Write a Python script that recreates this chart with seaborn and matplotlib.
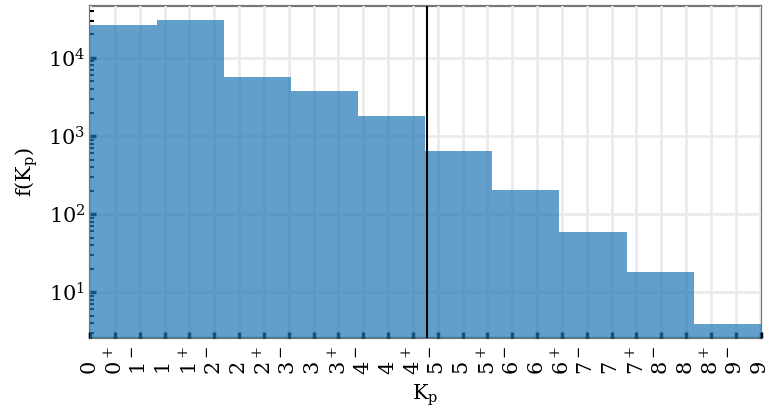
import matplotlib
matplotlib.use("Agg")
import matplotlib.pyplot as plt
import seaborn as sns
import numpy as np

# Kp histogram (10 bins over 0..9), counts
bin_edges = [0.0, 0.9, 1.8, 2.7, 3.6, 4.5, 5.4, 6.3, 7.2, 8.1, 9.0]
counts = [26500, 30700, 5700, 3780, 1800, 643, 203, 59, 18, 3.9]
kp_mark = 4.52

tick_pos = [i / 3 for i in range(28)]
tick_labels = []
for k in range(10):
    if k > 0:
        tick_labels.append(f"${k}^-$")
    tick_labels.append(f"${k}$")
    if k < 9:
        tick_labels.append(f"${k}^+$")

sns.set_style("whitegrid")
plt.rcParams["font.family"] = "DejaVu Serif"
plt.rcParams["mathtext.fontset"] = "dejavuserif"
plt.rcParams["text.color"] = "black"
plt.rcParams["axes.labelcolor"] = "black"
plt.rcParams["xtick.color"] = "black"
plt.rcParams["ytick.color"] = "black"

fig, ax = plt.subplots(figsize=(7.66, 4.12), dpi=100)
fig.subplots_adjust(left=0.1175, right=0.993, top=0.985, bottom=0.18)

centers = [(a + b) / 2 for a, b in zip(bin_edges[:-1], bin_edges[1:])]
sns.histplot(x=centers, weights=counts, bins=bin_edges, ax=ax,
             color="#1f77b4", alpha=0.7, edgecolor="none", linewidth=0)
ax.set_yscale("log")
ax.axvline(kp_mark, color="black", lw=1.5)

ax.set_xlim(0, 9)
ax.set_ylim(2.6, 46000)
ax.set_xticks(tick_pos)
ax.set_xticklabels(tick_labels, rotation=90, fontsize=15,
                   rotation_mode="anchor", ha="left", va="center")
ax.tick_params(axis="y", labelsize=15)
ax.set_xlabel(r"$\mathrm{K_p}$", fontsize=15, labelpad=5)
ax.set_ylabel(r"$\mathrm{f(K_p)}$", fontsize=15, labelpad=6)

ax.grid(True, which="major", color="#ebebeb", lw=2)
ax.set_axisbelow(True)
ax.tick_params(which="both", direction="in", bottom=True, left=True,
               color="black")
ax.tick_params(which="major", length=4, width=2.5)
ax.tick_params(axis="x", which="major", pad=27)
ax.tick_params(which="minor", length=3, width=1.5)
for sp in ax.spines.values():
    sp.set_color("#777777")
    sp.set_linewidth(1.6)
    sp.set_zorder(0.4)

fig.savefig("out.png", dpi=100)
